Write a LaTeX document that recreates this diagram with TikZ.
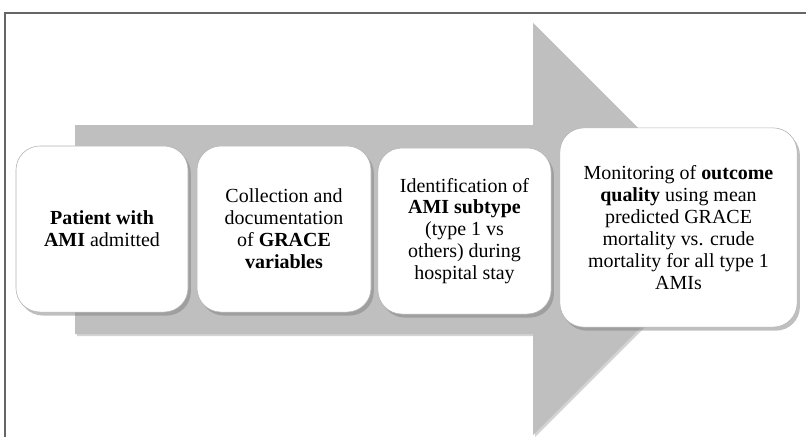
\documentclass[tikz,border=0pt]{standalone}
\usepackage{fontspec}
\setmainfont{Liberation Serif}
\usetikzlibrary{shadows}

\begin{document}
\begin{tikzpicture}[
    x=0.025cm, y=-0.025cm,
    stage/.style={
        rectangle,
        rounded corners=0.6cm,
        draw=gray!60,
        fill=white,
        drop shadow={opacity=0.5, shadow xshift=2pt, shadow yshift=-2.5pt},
        minimum width=#1,
        minimum height=4.15cm,
        font=\fontsize{14.2}{15.6}\selectfont,
        align=center,
        inner sep=2pt
    },
    bigarrow/.style={
        fill=gray!50,
        drop shadow={opacity=0.35, shadow xshift=1.5pt, shadow yshift=-1.5pt}
    }
]
\useasboundingbox (0,0) rectangle (806,437);

% Frame
\draw[gray!80!black, line width=0.8pt] (5,437) -- (5,13) -- (806,13);

% Arrow behind the boxes
\fill[bigarrow] (75,125) -- (533,125) -- (533,23) -- (739,229)
    -- (533,435) -- (533,334) -- (75,334) -- cycle;

% Stages
\node[stage=4.3cm] (admit) at (102,229) {\textbf{Patient with}\\\textbf{AMI} admitted};
\node[stage=4.35cm] (collect) at (284,229) {Collection and\\documentation\\of \textbf{GRACE}\\\textbf{variables}};
\node[stage=4.33cm] (subtype) at (464.5,231) {Identification of\\\textbf{AMI subtype}\\(type 1 vs\\others) during\\hospital stay};
\node[stage=5.93cm, minimum height=4.98cm] (monitor) at (678.5,227.5) {Monitoring of \textbf{outcome}\\\textbf{quality} using mean\\predicted GRACE\\mortality vs. crude\\mortality for all type 1\\AMIs};

\end{tikzpicture}
\end{document}
